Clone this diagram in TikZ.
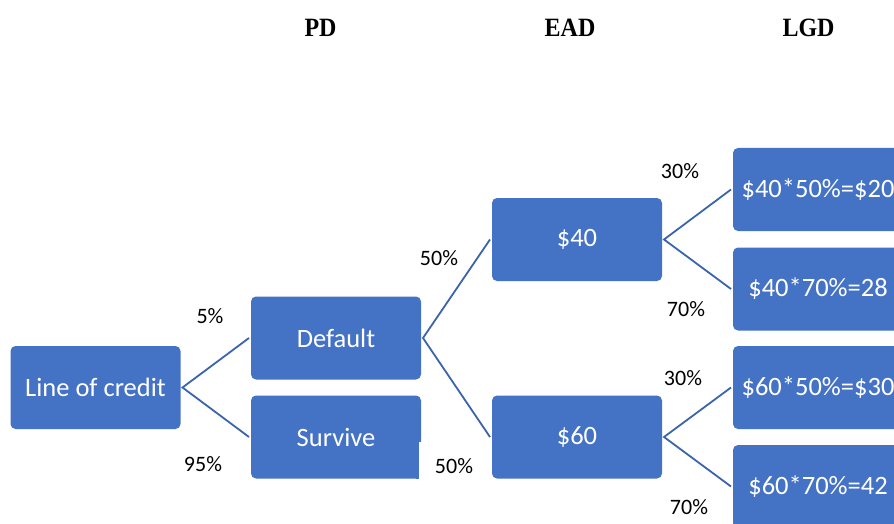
\documentclass[tikz,border=0pt]{standalone}
\usepackage{fontspec}
\setmainfont{Carlito}
\newfontfamily\hdfont{Liberation Serif}
\definecolor{boxblue}{HTML}{4472C4}
\definecolor{lineblue}{HTML}{3B64AD}
\begin{document}
\begin{tikzpicture}[x=1pt,y=-1pt,
 box/.style={fill=boxblue, rounded corners=5pt, minimum width=170pt, minimum height=83pt, text=white, font=\fontsize{26.5}{30}\selectfont, inner sep=0pt, outer sep=2pt, anchor=center},
 link/.style={draw=lineblue, line width=1.8pt},
 pct/.style={font=\fontsize{22}{26}\selectfont, anchor=base, inner sep=0pt},
 hdr/.style={font=\hdfont\bfseries\fontsize{24}{28}\selectfont, anchor=base, inner sep=0pt, yscale=1.1}]
\useasboundingbox (0,0) rectangle (894,524);
\clip (0,0) rectangle (894,524);
\fill[white] (0,0) rectangle (894,524);

% headers
\node[hdr] (hpd) at (320.5,36.5) {PD};
\node[hdr] (head) at (570,36.5) {EAD};
\node[hdr] (hlgd) at (808.5,36.5) {LGD};

% boxes
\node[box] (loc) at (95.5,387.5) {Line of credit};
\node[box] (def) at (336,338) {Default};
\node[box] (sur) at (336,437) {Survive};
\fill[white] (419.3,442) rectangle (423,481);
\fill[boxblue] (416,442) rectangle (419.3,479);
\node[box] (e40) at (577,239.5) {\$40};
\node[box] (e60) at (577,437) {\$60};
\node[box] (l1) at (818,189.5) {\$40*50\%=\$20};
\node[box] (l2) at (818,289) {\$40*70\%=28};
\node[box] (l3) at (818,387.5) {\$60*50\%=\$30};
\node[box] (l4) at (818,486.5) {\$60*70\%=42};

% connectors
\draw[link] (def.west) -- (loc.east) -- (sur.west);
\draw[link] (e40.west) -- (def.east) -- (e60.west);
\draw[link] (l1.west) -- (e40.east) -- (l2.west);
\draw[link] (l3.west) -- (e60.east) -- (l4.west);

% probabilities
\node[pct] (p1) at (210,323) {5\%};
\node[pct] (p2) at (203,471) {95\%};
\node[pct] (p3) at (439,265) {50\%};
\node[pct] (p4) at (454,473) {50\%};
\node[pct] (p5) at (680,178) {30\%};
\node[pct] (p6) at (686,316) {70\%};
\node[pct] (p7) at (683,385) {30\%};
\node[pct] (p8) at (689,514) {70\%};
\end{tikzpicture}
\end{document}
